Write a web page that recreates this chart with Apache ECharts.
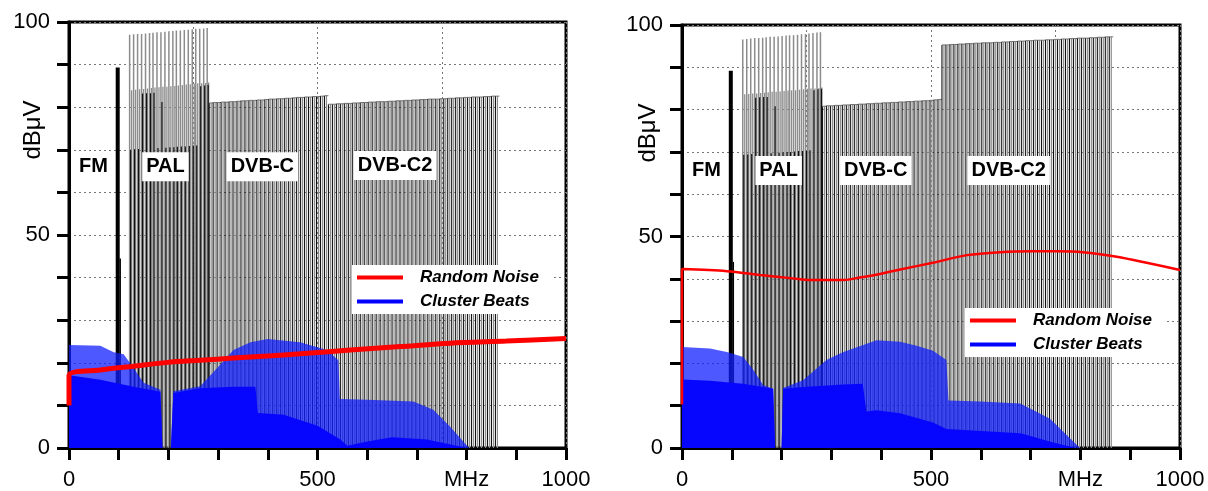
<!DOCTYPE html>
<html><head><meta charset="utf-8">
<script src="https://cdn.jsdelivr.net/npm/echarts@6/dist/echarts.min.js"></script>
<style>html,body{margin:0;padding:0;background:#fff}#c{width:1208px;height:491px}</style>
</head><body><div id="c"></div>
<script>
// ---------------- DATA ----------------
const xLabelValues = [0, 500, 800, 1000];
const xLabelTexts = ['0', '500', 'MHz', '1000'];
const yLabelValues = [0, 50, 100];

const bandLabelText = ['FM', 'PAL', 'DVB-C', 'DVB-C2'];
const bandLabelX = [49, 194, 389, 656];
const bandLabelYL = [66, 66, 66, 66.3];
const bandLabelYR = [65.6, 65.6, 65.6, 65.6];

// FM carrier
const fmFreq = [98];
const fmLevelL = [89.3];
const fmLevelR = [89.2];
const fmAuxFreq = [103];
const fmAuxLevelL = [44.5];
const fmAuxLevelR = [44.0];

// PAL carriers
const palFreq = [122,130,138,146,154,162,169,177,185,193,201,209,216,224,232,240,248,255,263,271,278];
const palSoundFreq = [126,134,142,150,158,166,173,181,189,197,205,213,220,228,236,244,252,259,267,275,281];
const palDarkFreq = [124,132,140,148,156,164,171,179,187,195,203,211,218,226,234,242,250,257,265,273,280];
const palVisionL = [97.0,97.1,97.2,97.2,97.3,97.4,97.5,97.6,97.6,97.7,97.8,97.9,98.0,98.0,98.1,98.2,98.3,98.4,98.4,98.5,98.6];
const palSoundL = [84.0,84.1,84.2,84.3,84.4,84.5,84.6,84.7,84.8,84.8,84.9,85.0,85.1,85.2,85.3,85.4,85.5,85.6,85.6,85.7,85.8];
const palDarkL = [70.0,70.1,70.2,83.2,83.3,83.3,83.4,70.4,81.2,70.5,70.6,70.6,70.7,70.8,70.8,70.9,71.0,71.0,84.9,85.1,85.2];
const palVisionR = [96.6,96.7,96.8,96.9,96.9,97.0,97.1,97.2,97.2,97.3,97.4,97.5,97.6,97.6,97.7,97.8,97.9,98.0,98.1,98.2,98.3];
const palSoundR = [83.6,83.7,83.8,83.8,83.9,84.0,84.1,84.2,84.2,84.3,84.4,84.5,84.6,84.6,84.7,84.8,84.9,85.0,85.0,85.1,85.2];
const palDarkR = [69.3,69.4,69.5,82.8,82.9,83.0,83.0,69.7,80.8,69.8,69.9,70.0,70.0,70.1,70.2,70.2,70.3,70.4,84.6,84.8,84.9];

// DVB-C / DVB-C2 channels
const dvbcFreq = [282,290,298,306,314,322,330,338,346,354,362,370,378,386,394,402,410,418,426,434,442,450,458,466,474,482,490,498,506,514];
const dvbc2Freq = [522,530,538,546,554,562,570,578,586,594,602,610,618,626,634,642,650,658,666,674,682,690,698,706,714,722,730,738,746,754,762,770,778,786,794,802,810,818,826,834,842,850,858];
const dvbcL = [81.0,81.1,81.1,81.2,81.2,81.3,81.3,81.4,81.5,81.5,81.6,81.6,81.7,81.7,81.8,81.9,81.9,82.0,82.0,82.1,82.1,82.2,82.3,82.3,82.4,82.4,82.5,82.5,82.6,82.7];
const dvbc2L = [80.7,80.7,80.8,80.8,80.9,80.9,81.0,81.0,81.1,81.1,81.2,81.2,81.3,81.3,81.3,81.4,81.4,81.5,81.5,81.6,81.6,81.7,81.7,81.8,81.8,81.9,81.9,81.9,82.0,82.0,82.1,82.1,82.2,82.2,82.3,82.3,82.4,82.4,82.4,82.5,82.5,82.6,82.6];
const dvbcR = [80.8,80.9,80.9,81.0,81.0,81.1,81.1,81.2,81.2,81.3,81.3,81.4,81.4,81.5,81.5,81.6,81.6,81.7,81.7,81.8,81.8,81.9,81.9,82.0,82.0,82.1,82.1,82.2,82.3,82.4];
const dvbc2R = [95.3,95.3,95.4,95.4,95.5,95.5,95.6,95.6,95.7,95.7,95.8,95.8,95.8,95.9,95.9,96.0,96.0,96.1,96.1,96.2,96.2,96.3,96.3,96.4,96.4,96.4,96.5,96.5,96.6,96.6,96.7,96.7,96.8,96.8,96.9,96.9,96.9,97.0,97.0,97.1,97.1,97.2,97.2];

// Random noise (MHz, dBuV)
const noiseFreqL = [0,0,63,130,198,264,331,399,465,566,667,767,880,1000];
const noiseL = [10,17.0,18.3,19.2,20.1,20.6,21.1,21.6,22.1,23.0,23.8,24.6,25.1,25.7];
const noiseFreqR = [0,0,90,157,223,257,324,357,400,438,504,572,639,705,753,805,873,940,1000];
const noiseR = [10.3,42.3,41.8,40.9,40.1,39.7,39.7,40.3,41.2,42.2,43.8,45.6,46.3,46.5,46.5,46.3,45.2,43.6,42.1];

// Cluster beats envelopes
const beatHiFreqL = [0,0,63,90,110,130,150,184,188,205,210,264,300,331,365,400,465,519,542,545,600,693,733,767,805];
const beatHiL = [0,24.2,24.0,22.5,22.0,18.8,15.3,13.7,0,0,13.3,14.5,19,23,24.8,25.6,24.8,23,20.6,11.5,11.3,10.9,9,5,0];
const beatLoFreqL = [0,0,63,130,184,188,205,210,264,330,375,380,432,500,546,560,600,650,720,780,800];
const beatLoL = [0,17.1,16.0,14.4,13.2,0,0,12.9,14.0,14.4,14.4,8.2,7.8,5.2,2.0,0.5,1.5,2.5,2,0.5,0];
const beatHiFreqR = [0,0,56,90,123,143,163,183,187,200,203,243,290,324,391,438,471,504,531,535,600,679,705,739,799];
const beatHiR = [0,23.9,23.5,22.7,21.5,18.5,14.9,14.0,0,0,14.2,16,20.8,22.7,25.5,25.1,24.2,23,20.8,11.2,11.0,10.5,9,6.9,0];
const beatLoFreqR = [0,0,56,123,183,187,200,203,243,324,363,370,391,438,504,531,600,680,740,790];
const beatLoR = [0,16.2,15.9,15.2,14.0,0,0,14.0,14.4,15.0,15.2,8.6,8.9,8.2,6.0,4.5,4.0,3.5,1.5,0];

// ---------------- STYLE ----------------
const FONT = 'Arial, "Liberation Sans", sans-serif';
const GRAY = '#8c8c8c';
const BLACK = '#111';
const DVB_HALF = 4;   // second line of each 8 MHz channel
const DVB_WIDTH = 8;

const pairs = (xs, ys) => xs.map((x, i) => [x, ys[i]]);

function vlineSeries(gi, data, color, width, z) {
  return {
    type: 'custom', xAxisIndex: gi * 2, yAxisIndex: gi, z: z || 2, silent: true,
    clip: true, data: data,
    renderItem: function (params, api) {
      const f = api.value(0), v = api.value(1);
      const p0 = api.coord([f, 0]), p1 = api.coord([f, v]);
      return { type: 'line', shape: { x1: p0[0], y1: p0[1], x2: p1[0], y2: p1[1] },
        style: { stroke: color, lineWidth: width } };
    }
  };
}
function dvbSeries(gi, data) {
  return {
    type: 'custom', xAxisIndex: gi * 2, yAxisIndex: gi, z: 2, silent: true,
    clip: true, data: data,
    renderItem: function (params, api) {
      const f = api.value(0), v = api.value(1);
      const a0 = api.coord([f, 0]), a1 = api.coord([f, v]);
      const b0 = api.coord([f + DVB_HALF, 0]), b1 = api.coord([f + DVB_HALF, v]);
      const c1 = api.coord([f + DVB_WIDTH, v]);
      return { type: 'group', children: [
        { type: 'line', shape: { x1: a0[0], y1: a0[1], x2: a1[0], y2: a1[1] }, style: { stroke: BLACK, lineWidth: 1.1 } },
        { type: 'line', shape: { x1: b0[0], y1: b0[1], x2: b1[0], y2: b1[1] }, style: { stroke: GRAY, lineWidth: 1.2 } },
        { type: 'line', shape: { x1: a1[0], y1: a1[1], x2: c1[0], y2: c1[1] }, style: { stroke: '#777', lineWidth: 1 } }
      ] };
    }
  };
}
function areaSeries(gi, data, color, z) {
  return { type: 'line', name: 'Cluster Beats', xAxisIndex: gi * 2, yAxisIndex: gi, z: z,
    data: data, showSymbol: false, symbol: 'none', silent: true,
    lineStyle: { width: 0, color: color }, itemStyle: { color: '#0000ff' },
    areaStyle: { color: color, opacity: 1 } };
}
function labelSeries(gi, ys) {
  return { type: 'scatter', xAxisIndex: gi * 2, yAxisIndex: gi, z: 8, silent: true,
    symbolSize: 1, itemStyle: { color: 'rgba(0,0,0,0)', opacity: 1 },
    data: bandLabelText.map((t, i) => [bandLabelX[i], ys[i], t]),
    label: { show: true, position: 'inside', formatter: p => p.value[2], opacity: 1,
      color: '#000', fontFamily: FONT, fontWeight: 'bold', fontSize: 20,
      backgroundColor: '#ffffff', padding: [5, 4, 4, 4] } };
}

const grids = [
  { left: 69, top: 22, width: 497, height: 426 },
  { left: 682, top: 25, width: 498, height: 427 }
];

const xAxes = [], yAxes = [];
grids.forEach((g, gi) => {
  xAxes.push({ gridIndex: gi, type: 'value', min: 0, max: 1000, interval: 100,
    axisLine: { onZero: false, lineStyle: { color: '#000', width: 3 } },
    axisTick: { length: 12, lineStyle: { color: '#000', width: 3 } },
    axisLabel: { margin: 21, color: '#000', fontFamily: FONT, fontSize: 22,
      formatter: v => { const k = xLabelValues.indexOf(v); return k >= 0 ? xLabelTexts[k] : ''; } },
    splitLine: { show: false } });
  xAxes.push({ gridIndex: gi, type: 'value', min: 0, max: 1000, interval: 250, position: 'top',
    axisLine: { show: false }, axisTick: { show: false }, axisLabel: { show: false },
    splitLine: { show: true, lineStyle: { color: '#777', width: 1, type: [2, 3] } } });
  yAxes.push({ gridIndex: gi, type: 'value', min: 0, max: 100, interval: 10,
    axisLine: { lineStyle: { color: '#000', width: 3 } },
    axisTick: { length: 12, lineStyle: { color: '#000', width: 3 } },
    axisLabel: { margin: 19, color: '#000', fontFamily: FONT, fontSize: 22,
      formatter: v => yLabelValues.includes(v) ? String(v) : '' },
    splitLine: { show: true, lineStyle: { color: '#777', width: 1, type: [2, 3] } } });
});

function panelSeries(gi, P) {
  return [
    vlineSeries(gi, pairs(palFreq, P.vision), GRAY, 1.5),
    vlineSeries(gi, pairs(palSoundFreq, P.sound), GRAY, 1.3),
    vlineSeries(gi, pairs(palDarkFreq, P.dark), BLACK, 1.2),
    dvbSeries(gi, pairs(dvbcFreq, P.dvbc)),
    dvbSeries(gi, pairs(dvbc2Freq, P.dvbc2)),
    vlineSeries(gi, pairs(fmFreq, P.fm), '#000', 4, 3),
    vlineSeries(gi, pairs(fmAuxFreq, P.fmAux), '#000', 1.5, 3),
    areaSeries(gi, pairs(P.hiF, P.hi), 'rgba(15,30,255,0.74)', 4),
    areaSeries(gi, pairs(P.loF, P.lo), '#0606ff', 5),
    { type: 'line', name: 'Random Noise', xAxisIndex: gi * 2, yAxisIndex: gi, z: 6,
      data: pairs(P.nF, P.n), showSymbol: false, symbol: 'none', smooth: 0.3, silent: true,
      lineStyle: { color: '#ff0000', width: P.nW }, itemStyle: { color: '#ff0000' } },
    labelSeries(gi, P.labY)
  ];
}

const series = [].concat(
  panelSeries(0, { vision: palVisionL, sound: palSoundL, dark: palDarkL, dvbc: dvbcL, dvbc2: dvbc2L,
    fm: fmLevelL, fmAux: fmAuxLevelL, hiF: beatHiFreqL, hi: beatHiL, loF: beatLoFreqL, lo: beatLoL,
    nF: noiseFreqL, n: noiseL, nW: 5, labY: bandLabelYL }),
  panelSeries(1, { vision: palVisionR, sound: palSoundR, dark: palDarkR, dvbc: dvbcR, dvbc2: dvbc2R,
    fm: fmLevelR, fmAux: fmAuxLevelR, hiF: beatHiFreqR, hi: beatHiR, loF: beatLoFreqR, lo: beatLoR,
    nF: noiseFreqR, n: noiseR, nW: 2.5, labY: bandLabelYR })
);

function legend(left, top) {
  return { left: left, top: top, orient: 'vertical', backgroundColor: '#fff',
    padding: [4, 14, 4, 5], itemGap: 7, itemWidth: 46, itemHeight: 4, icon: 'rect',
    selectedMode: false, z: 20,
    textStyle: { fontFamily: FONT, fontSize: 17, fontWeight: 'bold', fontStyle: 'italic', color: '#000',
      padding: [0, 0, 0, 12] },
    data: [{ name: 'Random Noise', itemStyle: { color: '#ff0000' } },
           { name: 'Cluster Beats', itemStyle: { color: '#0000ff' } }] };
}

const option = {
  animation: false,
  backgroundColor: '#fff',
  grid: grids.map(g => Object.assign({ show: true, borderColor: '#000', borderWidth: 3,
    backgroundColor: 'transparent', containLabel: false }, g)),
  xAxis: xAxes, yAxis: yAxes,
  legend: [legend(352, 265), legend(965, 308)],
  series: series,
  graphic: [
    { type: 'text', x: 33, y: 130, rotation: Math.PI / 2, z: 30,
      style: { text: 'dBμV', font: '24px ' + FONT, fill: '#000', align: 'center', verticalAlign: 'middle' } },
    { type: 'text', x: 648, y: 133, rotation: Math.PI / 2, z: 30,
      style: { text: 'dBμV', font: '24px ' + FONT, fill: '#000', align: 'center', verticalAlign: 'middle' } }
  ]
};
const chart = echarts.init(document.getElementById('c'));
chart.setOption(option);
</script></body></html>
